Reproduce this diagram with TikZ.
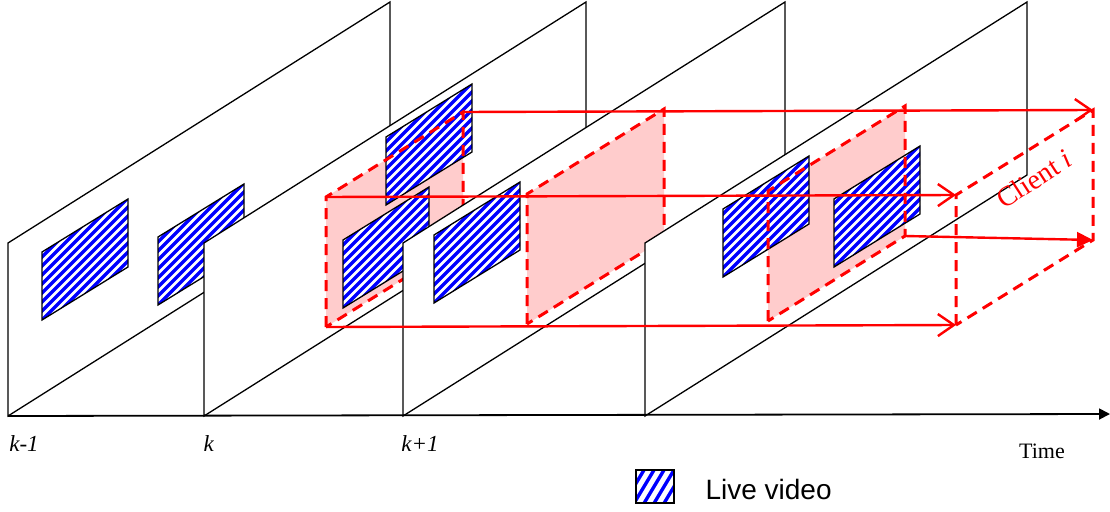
\documentclass[tikz,border=0pt]{standalone}
\usepackage{fontspec}
\setmainfont{Liberation Serif}
\newfontfamily\arialfont{Liberation Sans}
\usetikzlibrary{arrows.meta}
\definecolor{viewpink}{RGB}{255,204,204}

\tikzset{
  viewedge/.style={red, line width=3pt, dash pattern=on 11pt off 7pt},
  flowarrow/.style={red, line width=2.4pt, -{Straight Barb[length=16pt,width=22pt,line width=2.4pt]}},
}

% one frame of the stream, #1 = left x
\newcommand{\frameplane}[1]{%
  \filldraw[fill=white, line width=1.3pt] (#1,416) -- (#1,243) -- (#1+382,2) -- (#1+382,175) -- cycle;}

% striped live video window, (#1,#2) = top left corner
\newcommand{\livepatch}[2]{%
  \begin{scope}
    \clip (#1,#2) -- (#1,#2+68) -- (#1+86,#2+15) -- (#1+86,#2-53) -- cycle;
    \fill[white] (#1-2,#2-60) rectangle (#1+90,#2+70);
    \foreach \k in {0,...,20}
      \draw[blue, line width=3.4pt] (#1-5,#2-8+9*\k) -- ++(100,-100);
  \end{scope}
  \draw[line width=1.3pt] (#1,#2) -- (#1,#2+68) -- (#1+86,#2+15) -- (#1+86,#2-53) -- cycle;}

% corners of a client view, (#1,#2) = bottom left
\newcommand{\viewcorners}[3]{%
  \coordinate (#3bl) at (#1,#2); \coordinate (#3tl) at (#1,#2-130);
  \coordinate (#3tr) at (#1+137,#2-215); \coordinate (#3br) at (#1+137,#2-85);}

\begin{document}
\begin{tikzpicture}[x=1pt, y=-1pt]
  \useasboundingbox (0,0) rectangle (1110,511);
  \viewcorners{326}{327}{A}
  \viewcorners{527}{324}{B}
  \viewcorners{768}{321}{C}
  \viewcorners{956}{325}{cl}

  % frame k-1
  \frameplane{8}
  \livepatch{42}{252}
  \livepatch{158}{237}
  % frame k
  \frameplane{204}
  \fill[viewpink] (Abl) -- (Atl) -- (Atr) -- (Abr) -- cycle;
  \livepatch{386}{137}
  \livepatch{343}{240}
  \draw[viewedge] (Abl) -- (Atl) -- (Atr) -- (Abr) -- cycle;
  % frame k+1
  \frameplane{403}
  \livepatch{434}{235}
  \fill[viewpink] (Bbl) -- (Btl) -- (Btr) -- (Bbr) -- cycle;
  \draw[viewedge] (Bbl) -- (Btl) -- (Btr) -- (Bbr) -- cycle;
  % next frame
  \frameplane{645}
  \fill[viewpink] (Cbl) -- (Ctl) -- (Ctr) -- (Cbr) -- cycle;
  \livepatch{723}{209}
  \livepatch{834}{199}
  \draw[viewedge] (Cbl) -- (Ctl) -- (Ctr) -- (Cbr) -- cycle;

  % client
  \draw[viewedge] (clbl) -- (cltl) -- (cltr) -- (clbr) -- cycle;
  \node[red, rotate=33, font=\fontsize{28}{28}\selectfont] (client) at (1034,179) {Client \textit{i}};
  \draw[flowarrow] (Atr) -- (cltr);
  \draw[flowarrow] (Atl) -- (cltl);
  \draw[flowarrow] (Abl) -- (clbl);
  \draw[red, line width=2.4pt, -{Triangle[length=16pt,width=15pt]}] (Cbr) -- (clbr);

  % time axis
  \coordinate (t0) at (8,416);
  \coordinate (t1) at (1110,414);
  \draw[line width=1.8pt, -{Triangle[length=11pt,width=11pt]}] (t0) -- (t1);
  \node[font=\fontsize{23}{23}\selectfont] (km) at (24,444) {\textit{k-1}};
  \node[font=\fontsize{23}{23}\selectfont] (k) at (209,444) {\textit{k}};
  \node[font=\fontsize{23}{23}\selectfont] (kp) at (420,444) {\textit{k+1}};
  \node[font=\fontsize{22}{22}\selectfont] (time) at (1042,451) {Time};

  % legend
  \begin{scope}
    \clip (636,470) rectangle (674,503);
    \foreach \k in {0,...,9}
      \draw[blue, line width=3.4pt] (620+10*\k,510) -- ++(30,-50);
  \end{scope}
  \draw[line width=1.3pt] (636,470) rectangle (674,503);
  \node[font=\arialfont\fontsize{28}{28}\selectfont, anchor=west] (live) at (702,489) {Live video};
\end{tikzpicture}
\end{document}
